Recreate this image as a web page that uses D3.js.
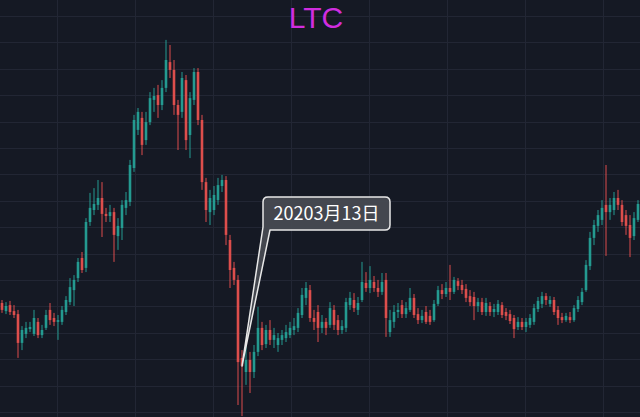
<!DOCTYPE html>
<html><head><meta charset="utf-8">
<script src="https://cdn.jsdelivr.net/npm/d3@7"></script>
<style>html,body{margin:0;padding:0;background:#151924;overflow:hidden}</style>
</head><body><svg id="c" width="640" height="417"></svg>
<script>
const title = "LTC";
const annotationIndex = 60;
const annotationLabel = "20203月13日";

const opens = [
59,56.3,58.3,56.3,55.3,45.7,48.7,50.3,48.7,52.7,
48.3,50.7,56.7,54,52.7,52.7,56,59.3,63.3,67.3,
74,70.7,86,90,91.7,94,88.7,88,89.3,81.3,
84,90.7,92.7,104,116.7,120.7,113.3,119.3,126.7,128.3,
125,130.7,139.3,136.7,125,122.7,133.3,115,126.7,136,
120,99.3,89.3,90,93.3,98,100,80,70.7,66.7,
40.7,36,40,36,42.7,50.7,45.3,50,46.7,45,
46.7,47.3,48.3,50,50.7,55,60.7,63.3,54,56,
50.7,52.7,51.7,56.7,53.3,50,50.7,58.3,60,56.7,
60,65.7,64,66,64,62.7,66.7,49.3,52.7,56,
58.3,55.3,56.7,60.7,55.3,53.3,56,54.7,53.3,58.7,
63.3,62,64,62.7,66.3,65,63.7,61.3,61,58,
59.3,56,58,56,56,58.3,56,55.3,54,51,
52.7,51,51.7,52.7,57,58.7,61.3,58.7,60,56.7,
54.3,53.3,54.3,53.3,57,59.3,63.3,71.3,80.7,84.7,
86.7,91.7,89.3,90,94,91.7,88.3,85,81.3,86.7];

const highs = [
60,59.3,59.7,58.3,56.7,51.3,52.7,52.7,56.7,54,
51.7,56.7,59,55.7,55,58,61.3,67.3,68.3,74,
76,87.3,95.7,97.3,100,99.3,90.7,91.7,90.7,87.3,
93.3,96,106.7,121.7,124,122.7,122.7,129.3,130.7,131.7,
133.3,146.7,145,140,126.7,136,135,129.3,137.3,137.3,
121.7,100.7,96.7,98,100.7,101.7,101.3,81.7,72.7,68.3,
43.3,45,42.7,45,57.7,52.7,51.7,53.3,50.7,49,
50,51.7,52.7,54,57.3,64,66,65,56.7,58.3,
55,54,59.3,58.3,55,53.3,60.7,62.7,62.3,61,
72.7,69.3,71.3,68,66.7,69,69,56.7,58.3,59,
60,59.3,64,62,57.3,56.7,58,56.7,60,64.7,
65.3,66,71.7,67.7,67.3,66.7,65.3,63.3,62.7,60.7,
60.7,60.7,59.3,58.7,60,59.3,57.3,56.7,55,54.3,
54,54,55.3,58.7,61,62.7,62.3,61.3,61,58,
55.7,55.7,56,58.3,61.3,64,73.3,82.7,86.7,90,
93.3,105,94,96,96.7,93.3,90,88.3,89.3,93.3];

const lows = [
55.7,55.3,55,54,40.7,43.3,47.3,49.3,48,47.3,
47.3,50,51.7,51.3,46.7,51.7,55,58.3,58,66,
69,69.3,84.7,88.3,90,81,86,86,72.7,76.7,
80,88.3,91.3,102.7,115,108.3,111.7,118.3,122.7,120.7,
123.3,129.3,134,121.7,110,120.7,110,107.3,125,118.3,
96.7,86,85,88.3,91.7,96,78.3,64,65,25,
21.3,31.7,29,34,41.3,43.3,44,45,44,42.7,
45,46,47.3,48.3,49.3,54,58.3,52.7,50,46,
49,48.3,50.7,50,48.3,48.7,49.3,56.7,56,55,
59.3,62.7,62.3,62.7,61,61.7,47.7,47.7,50.7,54,
54,54,56,54,52,52.3,52,51.7,52.7,58,
60.3,61,60,62,63.3,62,59.3,58,53.3,56,
55,54.7,54.7,54.3,55,54,53.3,52,47.3,50,
50,49.3,50.7,51.7,56,57.3,58.3,57.7,55,51.7,
52.3,52.7,52.3,52.7,56,58.3,62.7,70,78.3,82.7,
85,74.7,86.7,88.3,90,84.7,81.7,74.3,80,86];

const closes = [
56.7,58,56,55,45.7,50,50.7,51,54,48.3,
50,55,53.3,52.7,53.3,56.7,60,64.3,66.7,72.7,
70,86,90.7,92,94,88.7,88,89.3,81.7,84.7,
91.7,93.3,105,120,122.7,111.7,119.3,127.3,128,125,
130.7,140,136.7,125,121.7,134,113.3,127.3,136,120,
99.3,90,94,95,98.3,100,81.7,70,66.7,39.3,
38,40,36,42.7,50.7,45,50,46.7,48.3,47.3,
48.3,49.3,50.7,51.3,55.7,61.7,64,54,52.7,50.7,
52.7,50.7,57.3,51.7,50,51.3,59.3,60.7,57.3,59,
66,64,66.7,64,62.7,66,54,53.3,56,56.7,
55.3,57.3,60.7,55,53.3,54.7,52.7,52.7,58.7,63.3,
62,64,62.7,66.7,64.7,63.3,60.7,59.3,58,59.3,
56,59,56,57,58.7,55,54.7,53,50.3,52.7,
51,52.7,54,57.3,59.7,61.3,60,60,56,54,
53.3,54.7,53.3,57.3,60,62.7,71.7,80.7,85,88.3,
90.7,89.3,91.7,94,91.7,86,84.7,80.7,87.3,92];

const W = 640, H = 417;
const n = closes.length;
const svg = d3.select("#c");

const x = d3.scaleLinear().domain([-0.5, n - 0.5]).range([0, W]);
const y = d3.scaleLinear().domain([160, 20]).range([0, 420]);

svg.append("rect").attr("width", W).attr("height", H).attr("fill", "#151924");

// grid
const gridColor = "#222634";
const g = svg.append("g");
g.selectAll(".hg").data(d3.range(154.67, 15, -8.8)).join("line")
  .attr("x1", 0).attr("x2", W)
  .attr("y1", d => Math.round(y(d)) + 0.5).attr("y2", d => Math.round(y(d)) + 0.5)
  .attr("stroke", gridColor).attr("stroke-width", 1);
g.selectAll(".vg").data(d3.range(13.75, n, 19.5)).join("line")
  .attr("y1", 0).attr("y2", H)
  .attr("x1", d => Math.round(x(d)) + 0.5).attr("x2", d => Math.round(x(d)) + 0.5)
  .attr("stroke", gridColor).attr("stroke-width", 1);

const up = "#26a69a", down = "#ef5350";
const data = d3.range(n).map(i => ({i, o: opens[i], h: highs[i], l: lows[i], c: closes[i]}));
const bw = 2.6;
const cg = svg.append("g").attr("opacity", 0.92);
cg.selectAll(".wick").data(data).join("line")
  .attr("x1", d => x(d.i)).attr("x2", d => x(d.i))
  .attr("y1", d => y(d.h)).attr("y2", d => y(d.l))
  .attr("stroke", d => d.c >= d.o ? up : down).attr("stroke-width", 1);
cg.selectAll(".body").data(data).join("rect")
  .attr("x", d => x(d.i) - bw / 2).attr("width", bw)
  .attr("y", d => y(Math.max(d.o, d.c)))
  .attr("height", d => Math.max(1, Math.abs(y(d.o) - y(d.c))))
  .attr("fill", d => d.c >= d.o ? up : down);

// title
svg.append("text").attr("x", 316).attr("y", 28).attr("text-anchor", "middle")
  .attr("font-family", "Liberation Sans, Arial, sans-serif").attr("font-size", 30)
  .attr("fill", "#d02ddf").text(title);

// annotation callout
const tx = x(annotationIndex), ty = y(closes[annotationIndex]);
const L = tx + 21, T = ty - 169, R = L + 127, B = T + 33, r = 5;
const path = `M${L + r},${T} H${R - r} Q${R},${T} ${R},${T + r} V${B - r} Q${R},${B} ${R - r},${B} H${L + 7} L${tx},${ty} L${L},${B - 3} V${T + r} Q${L},${T} ${L + r},${T} Z`;
svg.append("path").attr("d", path)
  .attr("fill", "#474a52").attr("fill-opacity", 0.95)
  .attr("stroke", "#e8e8e8").attr("stroke-width", 1.5).attr("stroke-linejoin", "round");
svg.append("text").attr("x", (L + R) / 2).attr("y", T + 23).attr("text-anchor", "middle")
  .attr("font-family", "Noto Sans CJK SC, Noto Sans, sans-serif").attr("font-size", 18)
  .attr("fill", "#ffffff").text(annotationLabel);
</script>
</body></html>
